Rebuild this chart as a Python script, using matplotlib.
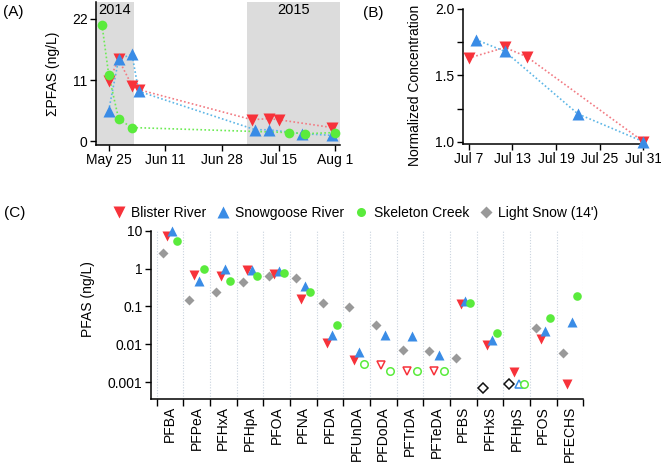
import matplotlib
matplotlib.use("Agg")
import matplotlib.pyplot as plt
from matplotlib.lines import Line2D
import datetime as dt
import numpy as np

plt.rcParams['font.family'] = ['Liberation Sans', 'DejaVu Sans']
plt.rcParams['font.size'] = 10

RED = '#F7323A'
BLUE = '#3A8CE6'
GREEN = '#5AEB3C'
GRAY = '#999999'
RED_L = '#F27B83'
BLUE_L = '#5DB6E6'
GREEN_L = '#6DEB55'

# ---------------- Panel A data ----------------
a_red_dates = ['2014-05-25', '2014-05-28', '2014-06-01', '2014-06-03',
               '2015-07-07', '2015-07-12', '2015-07-15', '2015-07-31']
a_red_vals = [10.8, 14.7, 10.0, 9.3, 3.9, 4.1, 3.9, 2.5]
a_blue_dates = ['2014-05-25', '2014-05-28', '2014-06-01', '2014-06-03',
                '2015-07-08', '2015-07-12', '2015-07-22', '2015-07-31']
a_blue_vals = [5.5, 14.8, 15.6, 9.0, 2.1, 2.1, 1.4, 1.1]
a_green_dates = ['2014-05-23', '2014-05-25', '2014-05-28', '2014-06-01',
                 '2015-07-18', '2015-07-23', '2015-08-01']
a_green_vals = [20.9, 12.0, 4.0, 2.5, 1.6, 1.4, 1.6]
a_xticks = ['05-25', '06-11', '06-28', '07-15', '08-01']
a_xticklabels = ['May 25', 'Jun 11', 'Jun 28', 'Jul 15', 'Aug 1']
a_yticks = [0, 11, 22]

# ---------------- Panel B data ----------------
b_red_dates = ['2015-07-07', '2015-07-12', '2015-07-15', '2015-07-31']
b_red_vals = [1.63, 1.71, 1.64, 1.0]
b_blue_dates = ['2015-07-08', '2015-07-12', '2015-07-22', '2015-07-31']
b_blue_vals = [1.77, 1.68, 1.21, 1.0]
b_xticks = ['07-07', '07-13', '07-19', '07-25', '07-31']
b_xticklabels = ['Jul 7', 'Jul 13', 'Jul 19', 'Jul 25', 'Jul 31']

# ---------------- Panel C data ----------------
compounds = ['PFBA', 'PFPeA', 'PFHxA', 'PFHpA', 'PFOA', 'PFNA', 'PFDA', 'PFUnDA',
             'PFDoDA', 'PFTrDA', 'PFTeDA', 'PFBS', 'PFHxS', 'PFHpS', 'PFOS', 'PFECHS']
c_red = [7.3, 0.69, 0.63, 0.90, 0.71, 0.16, 0.0105, 0.0038, 0.0028, 0.0019, 0.0019,
         0.119, 0.0094, 0.0018, 0.0136, 0.00088]
c_red_open = [0, 0, 0, 0, 0, 0, 0, 0, 1, 1, 1, 0, 0, 0, 0, 0]
c_blue = [9.7, 0.46, 0.96, 0.94, 0.87, 0.35, 0.018, 0.0064, 0.018, 0.016, 0.0051,
          0.14, 0.0133, 0.00091, 0.023, 0.039]
c_blue_open = [0, 0, 0, 0, 0, 0, 0, 0, 0, 0, 0, 0, 0, 1, 0, 0]
c_green = [5.3, 1.0, 0.48, 0.64, 0.75, 0.24, 0.032, 0.0030, 0.0019, 0.0019, 0.0019,
           0.126, 0.020, 0.00088, 0.049, 0.19]
c_green_open = [0, 0, 0, 0, 0, 0, 0, 1, 1, 1, 1, 0, 0, 1, 0, 0]
c_gray = [2.5, 0.146, 0.24, 0.44, 0.64, 0.57, 0.124, 0.097, 0.032, 0.0069, 0.0065,
          0.0044, 0.0007, 0.00088, 0.026, 0.006]
c_gray_open = [0, 0, 0, 0, 0, 0, 0, 0, 0, 0, 0, 0, 1, 1, 0, 0]
c_yticks = [10, 1, 0.1, 0.01, 0.001]
c_yticklabels = ['10', '1', '0.1', '0.01', '0.001']
legend_names = ['Blister River', 'Snowgoose River', 'Skeleton Creek', "Light Snow (14')"]


def to_common(s):
    d = dt.datetime.strptime(s, '%Y-%m-%d')
    return d.replace(year=2015)


def md(s):
    return dt.datetime.strptime('2015-' + s, '%Y-%m-%d')


W, H = 661, 472
fig = plt.figure(figsize=(W / 100, H / 100), dpi=100)


def px_axes(l, t, r, b):
    return fig.add_axes([l / W, 1 - b / H, (r - l) / W, (b - t) / H])


def px_text(x, y, s, **kw):
    return fig.text(x / W, 1 - y / H, s, **kw)


def style_axes(ax):
    for s in ['top', 'right']:
        ax.spines[s].set_visible(False)
    for s in ['left', 'bottom']:
        ax.spines[s].set_linewidth(1.1)
    ax.tick_params(direction='out', length=4, width=1.0, pad=2, labelsize=10)


# ---------------- Panel A ----------------
axA = px_axes(96, 2, 340, 145)
style_axes(axA)
d0 = md('05-25')
xa_lo = d0 + dt.timedelta(days=-3.8)
xa_hi = d0 + dt.timedelta(days=69.4)
axA.axvspan(xa_lo, d0 + dt.timedelta(days=7.7), color='#DCDCDC', zorder=0, lw=0)
axA.axvspan(d0 + dt.timedelta(days=41.6), xa_hi, color='#DCDCDC', zorder=0, lw=0)
axA.text(d0 + dt.timedelta(days=1.9), 23.5, '2014', ha='center', va='center', fontsize=10.5)
axA.text(d0 + dt.timedelta(days=55.5), 23.5, '2015', ha='center', va='center', fontsize=10.5)

for dates, vals, lc, mc, mk in [
        (a_red_dates, a_red_vals, RED_L, RED, 'v'),
        (a_blue_dates, a_blue_vals, BLUE_L, BLUE, '^'),
        (a_green_dates, a_green_vals, GREEN_L, GREEN, 'o')]:
    xs = [to_common(s) for s in dates]
    axA.plot(xs, vals, ls=(0, (1.0, 1.4)), color=lc, lw=1.2, zorder=2)
    axA.plot(xs, vals, ls='none', marker=mk, color=mc, ms=8 if mk != 'o' else 7,
             mec='none', zorder=3, clip_on=False)

axA.set_xlim(xa_lo, xa_hi)
axA.set_ylim(-0.63, 25)
axA.set_yticks(a_yticks)
axA.set_xticks([md(s) for s in a_xticks])
axA.set_xticklabels(a_xticklabels)
px_text(53, 74, 'ΣPFAS (ng/L)', rotation=90, ha='center', va='center', fontsize=10)
px_text(3, 12, '(A)', fontsize=11, va='center', ha='left')

# ---------------- Panel B ----------------
axB = px_axes(462.7, 9, 644, 144)
style_axes(axB)
j7 = md('07-07')
for dates, vals, lc, mc, mk in [
        (b_red_dates, b_red_vals, RED_L, RED, 'v'),
        (b_blue_dates, b_blue_vals, BLUE_L, BLUE, '^')]:
    xs = [to_common(s) for s in dates]
    axB.plot(xs, vals, ls=(0, (1.0, 1.4)), color=lc, lw=1.2, zorder=2)
    axB.plot(xs, vals, ls='none', marker=mk, color=mc, ms=8, mec='none', zorder=3,
             clip_on=False)
axB.set_xlim(j7 + dt.timedelta(days=-0.8), j7 + dt.timedelta(days=24.07))
axB.set_ylim(0.983, 2.0)
axB.set_yticks([1.0, 1.25, 1.5, 1.75, 2.0])
axB.set_yticklabels(['1.0', '', '1.5', '', '2.0'])
axB.set_xticks([md(s) for s in b_xticks])
axB.set_xticklabels(b_xticklabels)
px_text(415, 85, 'Normalized Concentration', rotation=90, ha='center', va='center',
        fontsize=10)
px_text(373, 13, '(B)', fontsize=11, va='center', ha='center')

# ---------------- Panel C ----------------
axC = px_axes(150.5, 230.7, 583.3, 399)
style_axes(axC)
axC.set_yscale('log')
n = len(compounds)
xpos = np.arange(n)
series = [
    (c_gray, c_gray_open, GRAY, 'D', -0.27, 5.5, '#111111'),
    (c_red, c_red_open, RED, 'v', -0.10, 7.2, RED),
    (c_blue, c_blue_open, BLUE, '^', 0.08, 7.2, BLUE),
    (c_green, c_green_open, GREEN, 'o', 0.27, 6.2, GREEN),
]
for vals, opens, col, mk, off, ms, ocol in series:
    vals = np.array(vals)
    opens = np.array(opens, dtype=bool)
    x = xpos + off
    axC.plot(x[~opens], vals[~opens], ls='none', marker=mk, ms=ms, color=col, mec='none',
             zorder=3, clip_on=False)
    axC.plot(x[opens], vals[opens], ls='none', marker=mk, ms=ms - 0.8, mfc='white',
             mec=ocol, mew=1.1, zorder=3, clip_on=False)

bounds = np.arange(n + 1) - 0.5
for b in bounds:
    axC.axvline(b, color='#C9D3DE', lw=0.8, ls=(0, (1, 1.5)), zorder=1)
axC.set_xlim(-0.725, n - 0.5)
axC.set_ylim(3.56e-4, 10)
axC.set_yticks(c_yticks)
axC.set_yticklabels(c_yticklabels)
axC.yaxis.set_minor_locator(matplotlib.ticker.NullLocator())
axC.set_xticks(bounds)
axC.set_xticklabels([''] * len(bounds))
axC.set_xticks(xpos, minor=True)
axC.set_xticklabels(compounds, minor=True, rotation=90, fontsize=10)
axC.tick_params(axis='x', which='minor', length=0, pad=5)
axC.tick_params(axis='x', which='major', length=5)
px_text(88, 299, 'PFAS (ng/L)', rotation=90, ha='center', va='center', fontsize=10)
px_text(4, 213, '(C)', fontsize=11, va='center', ha='left')

handles = [
    Line2D([], [], ls='none', marker='v', color=RED, ms=8, mec='none'),
    Line2D([], [], ls='none', marker='^', color=BLUE, ms=8, mec='none'),
    Line2D([], [], ls='none', marker='o', color=GREEN, ms=6.5, mec='none'),
    Line2D([], [], ls='none', marker='D', color=GRAY, ms=6, mec='none'),
]
fig.legend(handles, legend_names, loc='center', bbox_to_anchor=(355 / W, 1 - 213 / H),
           ncol=4, frameon=False, fontsize=10, handlelength=1.0, handletextpad=0.4,
           columnspacing=0.7, borderaxespad=0, borderpad=0)

fig.savefig('out.png', dpi=100)
